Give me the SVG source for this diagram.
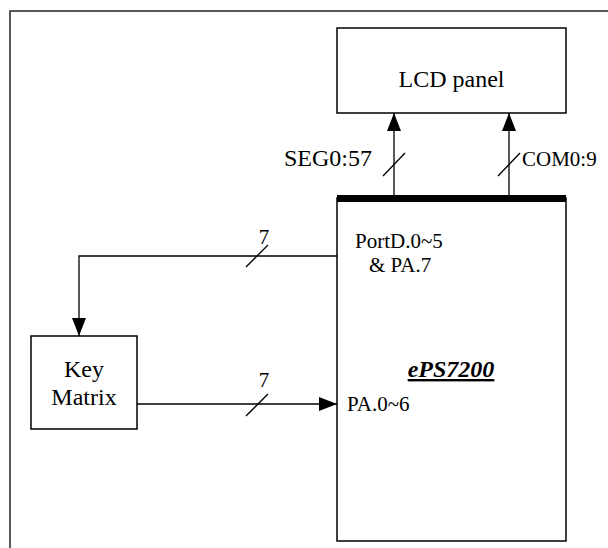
<svg xmlns="http://www.w3.org/2000/svg" width="608" height="548" viewBox="0 0 608 548">
<style>
.box{fill:#fff;stroke:#000;stroke-width:1.5}
.ln{fill:none;stroke:#000;stroke-width:1.3}
.t{font-family:'Liberation Serif','Times New Roman',serif;font-size:21px;fill:#000}
.b{font-size:24px}
</style>
<defs>
<marker id="ah" markerWidth="18" markerHeight="14" refX="18" refY="7" orient="auto" markerUnits="userSpaceOnUse">
<path d="M0,0 L18,7 L0,14 Z" fill="#000"/>
</marker>
</defs>
<rect width="608" height="548" fill="#fff"/>
<path d="M10,548 V11 H608" fill="none" stroke="#222" stroke-width="1.5"/>
<g id="lcd">
<rect class="box" x="337" y="28" width="229" height="85"/>
<text class="t b" x="451.5" y="87" text-anchor="middle">LCD panel</text>
</g>
<g id="chip">
<rect class="box" x="337" y="198" width="229" height="343"/>
<rect x="337" y="195" width="229" height="7" fill="#000"/>
<text class="t" x="355" y="248">PortD.0~5</text>
<text class="t" x="369" y="272">&amp; PA.7</text>
<text class="t b" x="451" y="377" text-anchor="middle" font-weight="bold" font-style="italic" text-decoration="underline">ePS7200</text>
<text class="t" x="347" y="411">PA.0~6</text>
</g>
<g id="key">
<rect class="box" x="31" y="336" width="106" height="93"/>
<text class="t b" x="84" y="377" text-anchor="middle">Key</text>
<text class="t b" x="84" y="405" text-anchor="middle">Matrix</text>
</g>
<g id="connectors">
<line class="ln" x1="394" y1="195" x2="394" y2="113" marker-end="url(#ah)"/>
<line class="ln" x1="383" y1="176" x2="405" y2="153"/>
<text class="t b" x="284" y="166">SEG0:57</text>
<line class="ln" x1="509" y1="195" x2="509" y2="113" marker-end="url(#ah)"/>
<line class="ln" x1="498" y1="176" x2="520" y2="153"/>
<text class="t" x="522" y="166">COM0:9</text>
<path class="ln" d="M337,256 H79 V336" marker-end="url(#ah)"/>
<line class="ln" x1="246" y1="267" x2="268" y2="245"/>
<text class="t" x="264" y="244" text-anchor="middle">7</text>
<line class="ln" x1="137" y1="404" x2="337" y2="404" marker-end="url(#ah)"/>
<line class="ln" x1="246" y1="416" x2="268" y2="394"/>
<text class="t" x="264" y="387" text-anchor="middle">7</text>
</g>
</svg>
